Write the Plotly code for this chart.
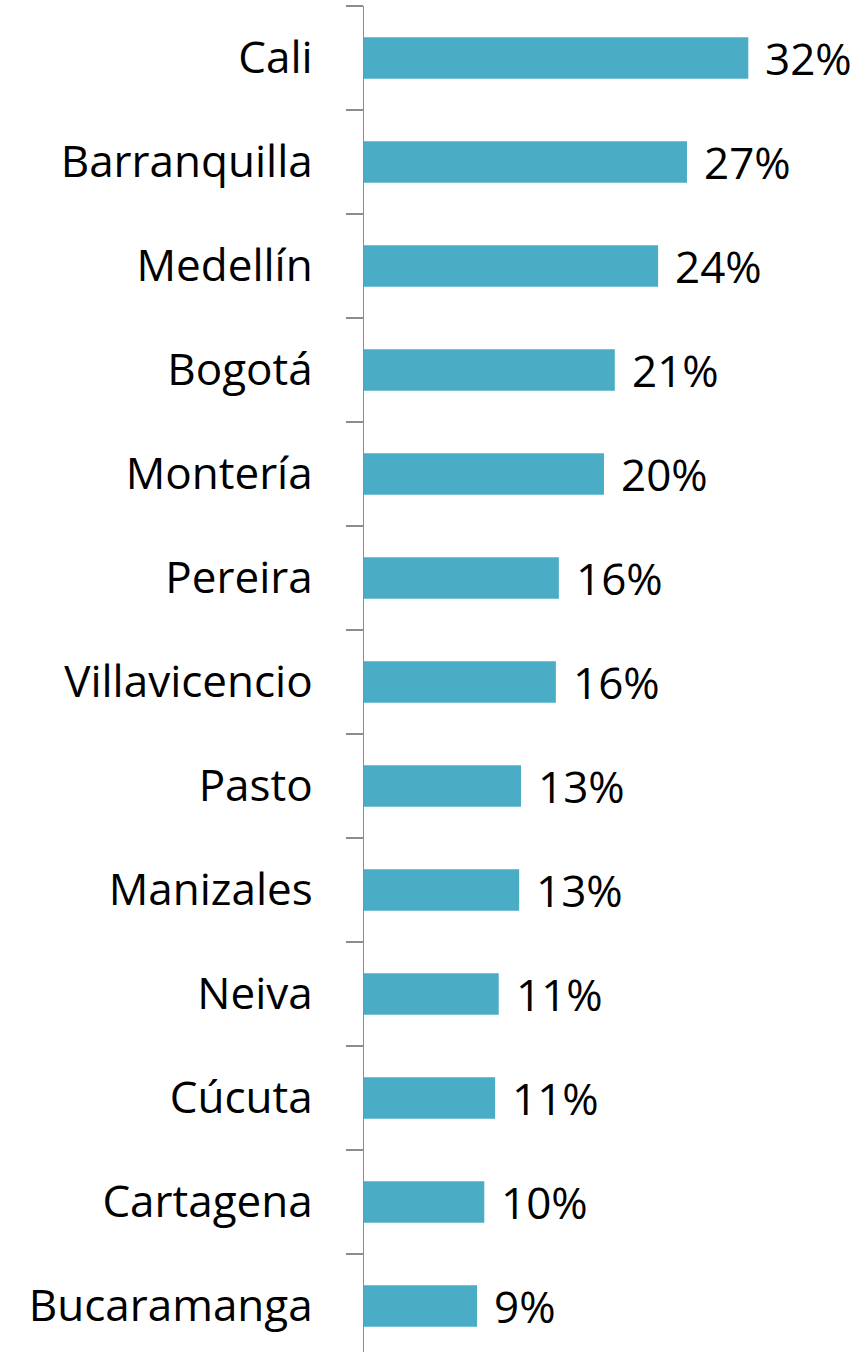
import plotly.graph_objects as go

cities = ["Cali", "Barranquilla", "Medellín", "Bogotá", "Montería", "Pereira",
          "Villavicencio", "Pasto", "Manizales", "Neiva", "Cúcuta", "Cartagena",
          "Bucaramanga"]
values = [31.95, 26.85, 24.45, 20.85, 19.95, 16.2, 15.95, 13.05, 12.9, 11.2, 10.9, 10.0, 9.4]
value_labels = ["32%", "27%", "24%", "21%", "20%", "16%", "16%", "13%", "13%", "11%",
                "11%", "10%", "9%"]

BAR_COLOR = "#4BACC6"
AXIS_COLOR = "#8C8C8C"
FONT = "Open Sans"

fig = go.Figure()
fig.add_trace(go.Bar(
    x=values, y=cities, orientation="h",
    marker=dict(color=BAR_COLOR, line=dict(width=0)),
    hoverinfo="skip",
))

for c, v, t in zip(cities, values, value_labels):
    fig.add_annotation(x=v, y=c, text=t, showarrow=False, xanchor="left",
                       yanchor="middle", xshift=15,
                       font=dict(family=FONT, size=44, color="#000000"))

fig.update_layout(
    width=865, height=1358,
    margin=dict(l=364, r=0, t=6, b=0, pad=0),
    paper_bgcolor="white", plot_bgcolor="white",
    bargap=0.603,
    showlegend=False,
    font=dict(family=FONT, size=44, color="#000000"),
)
fig.update_xaxes(range=[0, 41.65], visible=False, showgrid=False, zeroline=False)
fig.update_yaxes(
    type="category", categoryorder="array", categoryarray=cities,
    autorange="reversed",
    showline=True, linecolor=AXIS_COLOR, linewidth=1.5,
    ticks="outside", ticklen=17, tickwidth=1.5, tickcolor=AXIS_COLOR,
    tickson="boundaries", ticklabelstandoff=41,
    showgrid=False, zeroline=False,
    tickfont=dict(family=FONT, size=44, color="#000000"),
)

fig.write_html(
    "out.html",
    config={"displayModeBar": False, "staticPlot": True},
    post_script="document.body.style.margin='0';document.body.style.overflow='hidden';",
)
